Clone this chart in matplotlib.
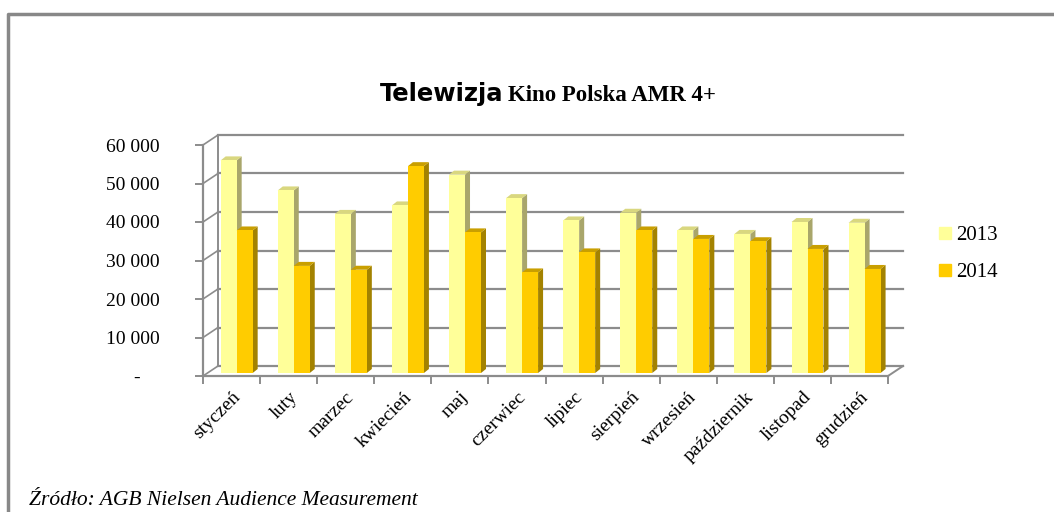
import matplotlib
matplotlib.use('Agg')
from matplotlib import pyplot as plt
from matplotlib.patches import Polygon
from matplotlib.lines import Line2D
from matplotlib.ticker import FuncFormatter

months = ['styczeń', 'luty', 'marzec', 'kwiecień', 'maj', 'czerwiec',
          'lipiec', 'sierpień', 'wrzesień', 'październik', 'listopad', 'grudzień']
amr_2013 = [56000, 48200, 42100, 44300, 52300, 46200, 40400, 42400, 37800, 36900, 40000, 39800]
amr_2014 = [37800, 28600, 27600, 54500, 37300, 26900, 32100, 37800, 35600, 35000, 33000, 27800]
y_ticks = [0, 10000, 20000, 30000, 40000, 50000, 60000]

W, H = 1054, 512
fig = plt.figure(figsize=(W / 100, H / 100), dpi=100)

# pixel frame of the chart: x=0 at 203px, x=12 at 888px; y=0 at 376px, 60000 at 145px
px_x = (888 - 203) / 12
px_y = (376 - 145) / 60000
xmax, ymax = 12.6, 63000
ax = fig.add_axes([203 / W, (H - 376) / H, xmax * px_x / W, ymax * px_y / H])
ax.set_xlim(0, xmax)
ax.set_ylim(0, ymax)

grid = '#8c8c8c'
dx, dy = 15 / px_x, 10 / px_y        # depth of the back wall
bx, by = 5 / px_x, 4 / px_y          # depth of a bar
base = 3 / px_y

# back wall grid and left wall diagonals
for t in y_ticks:
    ax.plot([dx, 12 + dx], [t + dy, t + dy], color=grid, lw=1.6, clip_on=False, zorder=1)
    ax.plot([0, dx], [t, t + dy], color=grid, lw=1.2, clip_on=False, zorder=1)
ax.plot([dx, dx], [dy, 60000 + dy], color=grid, lw=1.4, clip_on=False, zorder=1)
ax.plot([12, 12 + dx], [0, dy], color=grid, lw=1.4, clip_on=False, zorder=1)

# bars with a little depth
w = 0.28
series = [(amr_2013, 0.31, '#FFFF99', '#D9D77F', '#A9A66B', '2013'),
          (amr_2014, 0.31 + w, '#FFCC00', '#C99F00', '#A38200', '2014')]
handles = []
for vals, off, front, top, side, name in series:
    xs = [i + off for i in range(12)]
    hv = [v - base for v in vals]
    for x, v in zip(xs, vals):
        ax.add_patch(Polygon([(x + w, base), (x + w + bx, base + by), (x + w + bx, v + by), (x + w, v)],
                             closed=True, fc=side, ec='none', zorder=3, clip_on=False))
        ax.add_patch(Polygon([(x, v), (x + bx, v + by), (x + w + bx, v + by), (x + w, v)],
                             closed=True, fc=top, ec='none', zorder=3, clip_on=False))
    ax.bar(xs, hv, width=w, bottom=base, align='edge', color=front, zorder=3, clip_on=False)
    handles.append(Line2D([], [], marker='s', ls='none', color=front, markersize=8, label=name))

# axes
for s in ['top', 'right']:
    ax.spines[s].set_visible(False)
ax.spines['left'].set_bounds(0, 60000)
ax.spines['bottom'].set_bounds(0, 12)
ax.spines['left'].set_color(grid)
ax.spines['bottom'].set_color(grid)
ax.spines['left'].set_linewidth(1.6)
ax.spines['bottom'].set_linewidth(1.6)
ax.set_yticks(y_ticks)
ax.yaxis.set_major_formatter(FuncFormatter(lambda v, p: '-    ' if v == 0 else f'{int(v):,}'.replace(',', ' ')))
ax.tick_params(axis='y', length=6, color=grid, width=1.4, labelsize=14, pad=25)
ax.set_xticks(range(13))
ax.set_xticklabels([])
ax.set_xticks([i + 0.5 for i in range(12)], minor=True)
ax.set_xticklabels(months, minor=True, rotation=45, ha='right', rotation_mode='anchor', fontsize=14)
ax.tick_params(axis='x', which='major', length=6, color=grid, width=1.4)
ax.tick_params(axis='x', which='minor', length=0, pad=9)
for lab in ax.get_yticklabels() + ax.get_xticklabels(minor=True):
    lab.set_family('Liberation Serif')

fig.legend(handles=handles, loc='center left', bbox_to_anchor=(918 / W, 1 - 254 / H), frameon=False,
           prop={'family': 'Liberation Serif', 'size': 15}, handletextpad=0.15, labelspacing=0.85,
           handlelength=0.8)

fig.text(503 / W, 1 - 101 / H, 'Telewizja', ha='right', va='baseline', fontsize=17.5,
         fontweight='bold', family='DejaVu Sans')
fig.text(508 / W, 1 - 101 / H, 'Kino Polska AMR 4+', ha='left', va='baseline', fontsize=16.5,
         fontweight='bold', family='Liberation Serif')
fig.text(29 / W, 1 - 505 / H, 'Źródło: AGB Nielsen Audience Measurement', ha='left', va='baseline',
         fontsize=15.5, style='italic', family='Liberation Serif')

fig.add_artist(Line2D([8 / W, 8 / W, 1], [0, 1 - 14 / H, 1 - 14 / H], color='#888888', lw=2.5))

fig.savefig('out.png', dpi=100)
